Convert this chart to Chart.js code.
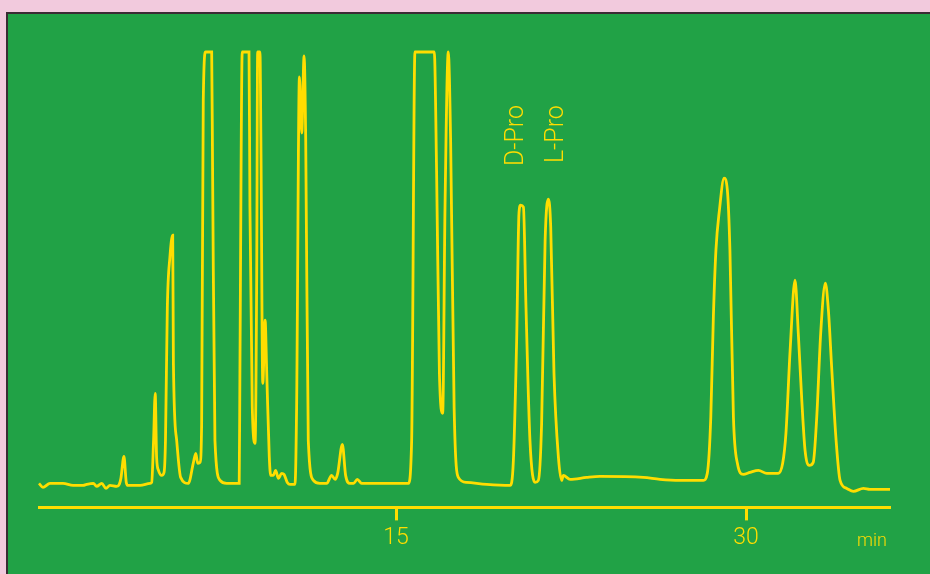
<!DOCTYPE html>
<html>
<head>
<meta charset="utf-8">
<script src="https://cdn.jsdelivr.net/npm/chart.js@4"></script>
<style>
  html, body { margin:0; padding:0; }
  body { width:930px; height:574px; background:#f2cadd; position:relative; overflow:hidden; }
  #panel { position:absolute; left:6px; top:12px; width:924px; height:562px; background:#21a246;
           border-left:2px solid #3b2b33; border-top:2px solid #3b2b33; box-sizing:border-box; }
  #wrap { position:absolute; left:0; top:0; width:930px; height:574px; }
</style>
</head>
<body>
<div id="panel"></div>
<div id="wrap"><canvas id="grafico" width="930" height="574"></canvas></div>
<script>
// tiempo de retención (min)
const tiempo = [
  -0.30,-0.13,0.17,0.73,1.16,1.59,1.74,2.03,2.17,2.39,2.57,2.74,3.03,3.14,3.21,3.34,3.44,3.51,4.03,4.46,
  4.53,4.61,4.68,4.74,4.82,4.96,5.06,5.12,5.20,5.31,5.43,5.46,5.60,5.77,6.10,6.31,6.42,6.50,6.60,6.67,
  6.74,6.84,7.10,7.14,7.24,7.46,7.74,8.28,8.31,8.41,8.70,8.74,8.84,8.96,9.03,9.07,9.17,9.21,9.29,9.39,
  9.46,9.57,9.63,9.74,9.84,9.96,10.10,10.20,10.34,10.46,10.67,10.74,10.86,10.96,11.06,11.13,11.24,11.46,11.74,12.03,
  12.24,12.39,12.50,12.70,12.84,13.03,13.18,13.34,13.53,15.53,15.67,15.81,16.64,16.74,16.86,17.00,17.10,17.24,17.34,17.49,
  17.67,18.03,18.89,19.89,20.03,20.17,20.27,20.34,20.46,20.57,20.74,20.96,21.10,21.24,21.39,21.53,21.63,21.77,21.96,22.10,
  22.17,22.46,23.17,23.74,25.60,26.31,27.17,28.17,28.34,28.49,28.60,28.71,28.86,29.06,29.20,29.31,29.46,29.63,29.88,30.17,
  30.53,30.89,31.38,31.57,31.71,31.89,32.10,32.24,32.39,32.53,32.71,32.88,33.03,33.20,33.40,33.53,33.67,33.86,34.03,34.32,
  34.60,35.03,35.31,36.17
];
// señal del detector (la parte alta se satura a 455)
const senal = [
  24,20,24,24,22,22,23,24,21,24,19,22,21,23,29,51,25,22,22,24,
  25,67,114,50,37,32,35,67,200,250,272,144,67,30,24,44,54,44,45,84,
  407,455,455,334,67,27,24,24,134,455,455,300,100,64,234,455,455,367,124,187,
  134,50,32,32,37,29,34,33,25,23,23,100,430,374,451,367,67,27,24,24,
  32,28,34,63,32,24,24,28,24,24,67,455,455,334,134,94,300,455,367,100,
  30,25,23,22,47,167,294,302,300,200,67,25,27,84,267,308,280,134,50,27,
  32,28,30,31,30,28,27,27,34,90,190,257,297,329,317,257,90,44,33,35,
  37,34,34,44,74,157,227,174,107,57,42,45,90,174,224,197,140,67,27,19,
  16,19,18,18
];
const ticksX = [15, 30];
const etiquetas = ["D-Pro", "L-Pro"];
const etiquetasTiempo = [20.19, 21.90];
const etiquetasNivel = [341, 344];
const unidad = "min";

const amarillo = "#ffdd00";

const pluginTextos = {
  id: "textos",
  afterDatasetsDraw(chart){
    const ctx = chart.ctx;
    const sx = chart.scales.x, sy = chart.scales.y;
    ctx.save();
    ctx.fillStyle = amarillo;
    ctx.font = "300 25px Roboto, 'Liberation Sans', sans-serif";
    ctx.textAlign = "left";
    ctx.textBaseline = "middle";
    etiquetas.forEach((txt, i) => {
      ctx.save();
      ctx.translate(sx.getPixelForValue(etiquetasTiempo[i]), sy.getPixelForValue(etiquetasNivel[i]));
      ctx.rotate(-Math.PI / 2);
      ctx.fillText(txt, 0, 0);
      ctx.restore();
    });
    // unidad del eje
    ctx.font = "300 18px Roboto, 'Liberation Sans', sans-serif";
    ctx.textAlign = "right";
    ctx.textBaseline = "alphabetic";
    ctx.fillText(unidad, chart.chartArea.right - 3, chart.chartArea.bottom + 39);
    ctx.restore();
  }
};

new Chart(document.getElementById("grafico"), {
  type: "line",
  data: {
    datasets: [{
      data: tiempo.map((t, i) => ({ x: t, y: senal[i] })),
      borderColor: amarillo,
      borderWidth: 2.8,
      pointRadius: 0,
      fill: false,
      cubicInterpolationMode: "monotone",
      clip: 6
    }]
  },
  options: {
    responsive: false,
    animation: false,
    events: [],
    layout: { padding: { left: 39, right: 40, top: 52, bottom: 18 } },
    plugins: { legend: { display: false }, tooltip: { enabled: false } },
    scales: {
      x: {
        type: "linear",
        min: -0.30,
        max: 36.17,
        afterBuildTicks: s => { s.ticks = ticksX.map(v => ({ value: v })); },
        grid: { display: true, drawOnChartArea: false, drawTicks: true, tickLength: 13, tickWidth: 3, tickColor: amarillo },
        border: { display: true, color: amarillo, width: 3 },
        ticks: {
          color: amarillo,
          padding: 4,
          maxRotation: 0,
          font: { family: "Roboto, 'Liberation Sans', sans-serif", size: 23, weight: 300 }
        }
      },
      y: { display: false, min: 0, max: 455 }
    }
  },
  plugins: [pluginTextos]
});
</script>
</body>
</html>
